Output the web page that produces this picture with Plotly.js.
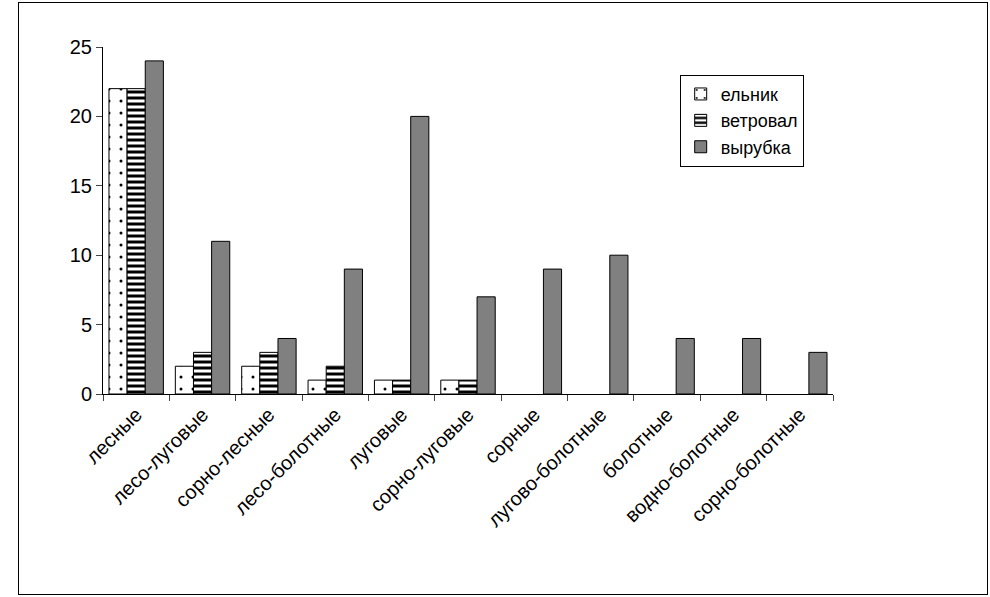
<!DOCTYPE html>
<html>
<head>
<meta charset="utf-8">
<script src="https://cdn.plot.ly/plotly-3.0.1.min.js"></script>
<style>
body { margin: 0; }
#frame { position: absolute; left: 18px; top: 2px; width: 968px; height: 591px; border: 1px solid black; pointer-events: none; }
</style>
</head>
<body>
<div id="graph" style="width:990px;height:597px;"></div>
<div id="frame"></div>
<script>
// categories and series
const groups = ['лесные', 'лесо-луговые', 'сорно-лесные', 'лесо-болотные', 'луговые', 'сорно-луговые',
    'сорные', 'лугово-болотные', 'болотные', 'водно-болотные', 'сорно-болотные'];
const elnik = [22, 2, 2, 1, 1, 1, 0, 0, 0, 0, 0];
const vetroval = [22, 3, 3, 2, 1, 1, 0, 0, 0, 0, 0];
const vyrubka = [24, 11, 4, 9, 20, 7, 9, 10, 4, 4, 3];

// no outline on empty bars
const edge = (vals) => ({color: 'black', width: vals.map(v => v > 0 ? 1 : 0)});

const traces = [
    {x: groups, y: elnik, name: 'ельник', type: 'bar',
     marker: {color: 'white', line: edge(elnik), pattern: {shape: '.', fgcolor: 'black', bgcolor: 'white', size: 12, solidity: 0.05}}},
    {x: groups, y: vetroval, name: 'ветровал', type: 'bar',
     marker: {color: 'white', line: edge(vetroval), pattern: {shape: '-', fgcolor: 'black', bgcolor: 'white', size: 6, solidity: 0.5}}},
    {x: groups, y: vyrubka, name: 'вырубка', type: 'bar',
     marker: {color: '#808080', line: edge(vyrubka)}}
];

const layout = {
    width: 990, height: 597,
    margin: {l: 103, r: 157, t: 47, b: 203},
    font: {family: 'Liberation Sans, Arial', size: 20, color: 'black'},
    barmode: 'group', bargap: 0.18, bargroupgap: 0,
    showlegend: true,
    legend: {x: 0.79, y: 0.92, xanchor: 'left', yanchor: 'top', bordercolor: 'black', borderwidth: 1,
             font: {size: 18}, itemwidth: 30, tracegroupgap: 0},
    xaxis: {showline: true, linecolor: 'black', ticks: 'outside', tickson: 'boundaries', ticklen: 6,
            tickangle: -45, showgrid: false},
    yaxis: {range: [0, 25], dtick: 5, showline: true, linecolor: 'black', ticks: 'outside', ticklen: 6,
            showgrid: false, zeroline: false},
    paper_bgcolor: 'white', plot_bgcolor: 'white'
};

Plotly.newPlot('graph', traces, layout, {displayModeBar: false});
</script>
</body>
</html>
